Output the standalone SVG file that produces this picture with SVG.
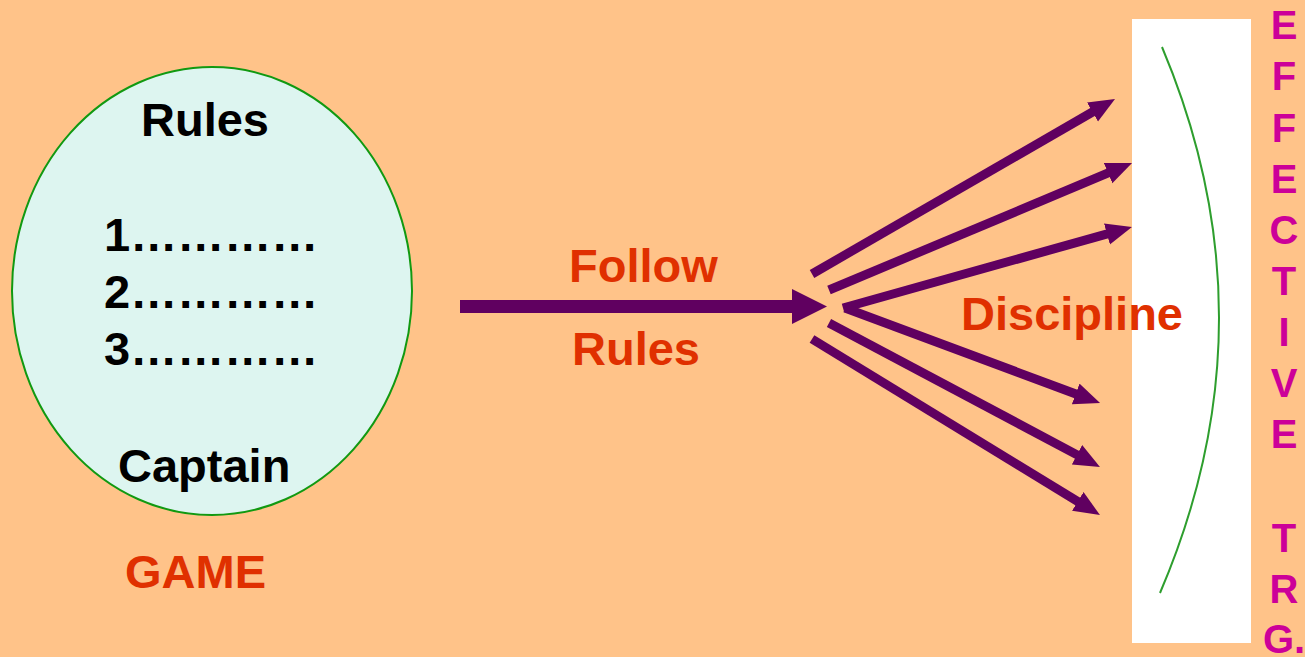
<svg xmlns="http://www.w3.org/2000/svg" width="1305" height="657" viewBox="0 0 1305 657">
<style>
.t{font-family:"Liberation Sans",Arial,sans-serif;font-weight:bold}
.blk{fill:#000;font-size:47px}
.red{fill:#E03000;font-size:47px}
.mag{fill:#CC0099;font-size:40px;text-anchor:middle}
.fan{stroke:#600060;stroke-width:9;fill:none;marker-end:url(#ah)}
</style>
<defs>
<marker id="ah" markerUnits="userSpaceOnUse" markerWidth="28" markerHeight="24" refX="6" refY="11" orient="auto">
<path d="M0,0 L26,11 L0,22 z" fill="#600060"/>
</marker>
</defs>
<rect x="0" y="0" width="1305" height="657" fill="#FFC389"/>
<g id="game">
<ellipse cx="212" cy="291" rx="200" ry="224" fill="#DDF5F0" stroke="#119911" stroke-width="2"/>
<text class="t blk" x="141" y="136">Rules</text>
<text class="t blk" x="104" y="251">1…………</text>
<text class="t blk" x="104" y="308">2…………</text>
<text class="t blk" x="104" y="365">3…………</text>
<text class="t blk" x="118" y="482">Captain</text>
<text class="t red" x="125" y="588">GAME</text>
</g>
<g id="follow-label">
<text class="t red" x="569" y="282">Follow</text>
<text class="t red" x="572" y="365">Rules</text>
</g>
<g id="target">
<rect x="1132" y="19" width="119" height="624" fill="#FFFFFF"/>
<path d="M1162,47 Q1277,320 1160,593" fill="none" stroke="#2E9E2E" stroke-width="2"/>
</g>
<g id="discipline">
<text class="t red" x="961" y="330">Discipline</text>
</g>
<g id="effective">
<text class="t mag" x="1284" y="39">E</text>
<text class="t mag" x="1284" y="90">F</text>
<text class="t mag" x="1284" y="142">F</text>
<text class="t mag" x="1284" y="193">E</text>
<text class="t mag" x="1284" y="244">C</text>
<text class="t mag" x="1284" y="295">T</text>
<text class="t mag" x="1284" y="346">I</text>
<text class="t mag" x="1284" y="397">V</text>
<text class="t mag" x="1284" y="448">E</text>
<text class="t mag" x="1284" y="552">T</text>
<text class="t mag" x="1284" y="603">R</text>
<text class="t mag" x="1284" y="653">G.</text>
</g>
<g id="connectors">
<line x1="460" y1="306.5" x2="794" y2="306.5" stroke="#600060" stroke-width="13"/>
<polygon points="792,289 827,306.5 792,324" fill="#600060"/>
<line class="fan" x1="812" y1="274" x2="1097.7" y2="109"/>
<line class="fan" x1="829" y1="290" x2="1113.6" y2="170.7"/>
<line class="fan" x1="843" y1="308" x2="1112.7" y2="232.4"/>
<line class="fan" x1="845" y1="308" x2="1081.3" y2="396"/>
<line class="fan" x1="829" y1="323" x2="1082.3" y2="457.6"/>
<line class="fan" x1="812" y1="339" x2="1082.9" y2="504.6"/>
</g>
</svg>
